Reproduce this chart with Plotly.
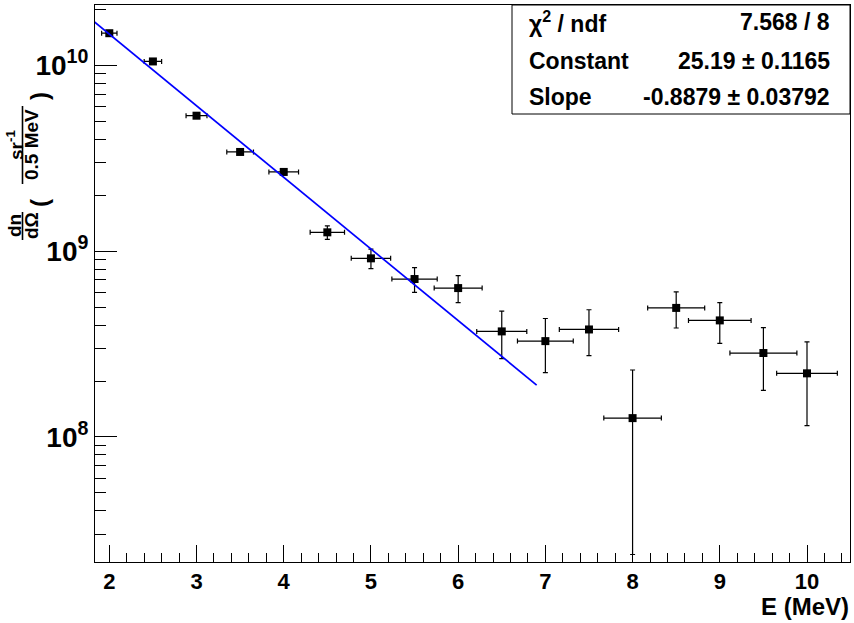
import numpy as np
import plotly.graph_objects as go

# Measured spectrum (bin centre, half-width, yield, yield uncertainty)
energy = [2.0, 2.5, 3.0, 3.5, 4.0, 4.5, 5.0, 5.5, 6.0, 6.5, 7.0, 7.5, 8.0, 8.5, 9.0, 9.5, 10.0]
energy_err = [0.088, 0.10, 0.12, 0.153, 0.17, 0.197, 0.226, 0.26, 0.275, 0.287,
              0.32, 0.34, 0.33, 0.327, 0.359, 0.384, 0.348]
counts = [1.49e10, 1.05e10, 5.36e9, 3.42e9, 2.67e9, 1.263e9, 9.15e8, 7.08e8, 6.33e8,
          3.70e8, 3.28e8, 3.79e8, 1.263e8, 4.95e8, 4.24e8, 2.83e8, 2.20e8]
counts_err = [1.0e8, 1.0e8, 1.0e8, 1.0e8, 1.0e8, 1.06e8, 1.1e8, 1.08e8, 1.05e8,
              1.06e8, 1.06e8, 1.05e8, 1.03e8, 1.09e8, 1.05e8, 1.05e8, 1.05e8]

# Exponential fit results: f(E) = exp(Constant + Slope * E)
fit_const, fit_const_err = 25.19, 0.1165
fit_slope, fit_slope_err = -0.8879, 0.03792
fit_chi2, fit_ndf = 7.568, 8
fit_range = (1.75, 6.9)

x_range = [1.836, 10.493]
y_range_log = [7.327, 10.325]
y_tickvals = [1e8, 1e9, 1e10]
y_ticktext = ["10<sup>8</sup>", "10<sup>9</sup>", "10<sup>10</sup>"]

W, H = 854, 623
L, R, T, B = 95, 4, 5, 61
FONT = "Liberation Sans, Arial, Helvetica, sans-serif"


def px(x):
    return (x - L) / (W - L - R)


def py(y):
    return 1 - (y - T) / (H - T - B)


def bold(size):
    return dict(family=FONT, size=size, color="black", weight="bold")


fig = go.Figure()

fig.add_trace(go.Scatter(
    x=energy, y=counts, mode="markers",
    marker=dict(symbol="square", size=8, color="black"),
    error_x=dict(type="data", array=energy_err, color="black", thickness=1.2, width=2.5),
    error_y=dict(type="data", array=counts_err, color="black", thickness=1.2, width=2.5),
    showlegend=False,
))

fx = np.linspace(fit_range[0], fit_range[1], 300)
fy = np.exp(fit_const + fit_slope * fx)
fig.add_trace(go.Scatter(
    x=fx, y=fy, mode="lines", line=dict(color="#0000ff", width=1.7),
    showlegend=False,
))

fig.update_xaxes(
    range=x_range, showline=True, linecolor="black", linewidth=1, mirror=True,
    ticks="inside", ticklen=17, tickwidth=1, tickcolor="black",
    tick0=0, dtick=1, showgrid=False, zeroline=False,
    minor=dict(ticks="inside", ticklen=9, tickwidth=1, tickcolor="black", dtick=0.2, showgrid=False),
    tickfont=bold(22),
)
fig.update_yaxes(
    type="log", range=y_range_log, showline=True, linecolor="black", linewidth=1, mirror=True,
    tickmode="array", tickvals=y_tickvals, ticktext=y_ticktext,
    ticks="inside", ticklen=22, tickwidth=1, tickcolor="black",
    showgrid=False, zeroline=False,
    minor=dict(ticks="inside", ticklen=11, tickwidth=1, tickcolor="black", dtick="D1", showgrid=False),
    tickfont=bold(28),
)

annotations = []
shapes = []

# Fit statistics box
shapes.append(dict(type="rect", xref="paper", yref="paper",
                   x0=px(512), x1=1.0, y0=py(114), y1=1.0,
                   line=dict(color="black", width=1), fillcolor="white", layer="above"))
stat_rows = [
    ("\u03c7<sup>2</sup> / ndf", f"{fit_chi2:.3f} / {fit_ndf}", 22),
    ("Constant", f"{fit_const:.2f} \u00b1 {fit_const_err:.4f}", 61),
    ("Slope", f"{fit_slope:.4f} \u00b1 {fit_slope_err:.5f}", 97),
]
for label, value, yc in stat_rows:
    annotations.append(dict(text=label, xref="paper", yref="paper", x=px(527), y=py(yc),
                            xanchor="left", yanchor="middle", showarrow=False, font=bold(23)))
    annotations.append(dict(text=value, xref="paper", yref="paper", x=px(832), y=py(yc),
                            xanchor="right", yanchor="middle", showarrow=False, font=bold(23)))

# X axis title
annotations.append(dict(text="E (MeV)", xref="paper", yref="paper", x=px(851), y=py(606),
                        xanchor="right", yanchor="middle", showarrow=False, font=bold(24)))

# Y axis title: dn/dΩ ( sr^-1 / 0.5 MeV ), built from rotated pieces
for txt, xc, yc, size in [
    ("dn", 14, 226, 19),
    ("d\u03a9", 31, 226, 19),
    ("(", 39, 203, 24),
    ("sr<sup>-1</sup>", 15, 145, 19),
    ("0.5 MeV", 31, 145, 19),
    (")", 39, 96, 24),
]:
    annotations.append(dict(text=txt, xref="paper", yref="paper", x=px(xc), y=py(yc),
                            xanchor="center", yanchor="middle", textangle=-90,
                            showarrow=False, font=bold(size)))
for y0, y1 in [(212, 240), (106, 184)]:
    shapes.append(dict(type="line", xref="paper", yref="paper",
                       x0=px(22.5), x1=px(22.5), y0=py(y0), y1=py(y1),
                       line=dict(color="black", width=1.6)))

fig.update_layout(
    width=W, height=H,
    margin=dict(l=L, r=R, t=T, b=B, pad=0),
    paper_bgcolor="white", plot_bgcolor="white",
    annotations=annotations, shapes=shapes,
)

fig.write_html("out.html")
